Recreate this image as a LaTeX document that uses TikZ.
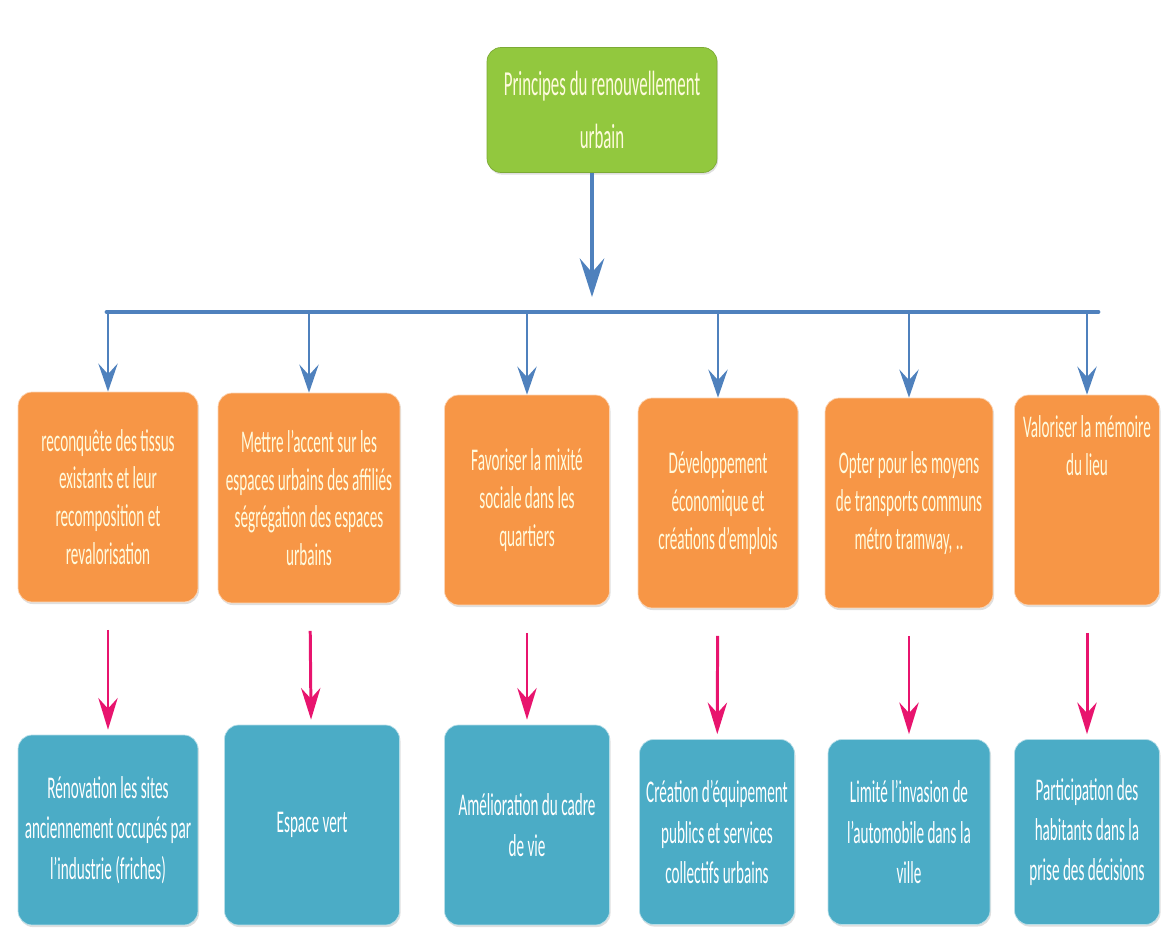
\documentclass[tikz,border=0pt]{standalone}
\usepackage{fontspec}
\setmainfont{Carlito}[FakeStretch=0.48]
\usetikzlibrary{arrows.meta,shadows,positioning}

\definecolor{vertpomme}{RGB}{146,200,62}
\definecolor{orangeboite}{RGB}{247,150,70}
\definecolor{bleuboite}{RGB}{75,172,198}
\definecolor{bleufleche}{RGB}{79,129,189}
\definecolor{rosefleche}{RGB}{232,20,110}
\definecolor{creme}{RGB}{255,251,222}

\tikzset{
  boite/.style={rounded corners=8pt, align=center, inner sep=2pt,
    font=\fontsize{18}{21.5}\selectfont,
    drop shadow={opacity=0.25,shadow xshift=0.6pt,shadow yshift=-1.2pt}},
  racine/.style={boite, fill=vertpomme, draw=vertpomme!85!black, text=creme,
    minimum width=4.6cm, minimum height=2.5cm, font=\fontsize{20}{30}\selectfont},
  principe/.style={boite, fill=orangeboite, draw=orangeboite!40!white, text=creme,
    minimum height=4.2cm},
  effet/.style={boite, fill=bleuboite, draw=bleuboite!40!white, text=white,
    font=\fontsize{18}{23}\selectfont},
  fleche tronc/.style={-{Stealth[length=22pt,width=14pt,inset=8pt]}, bleufleche, line width=1.8pt},
  fleche bleue/.style={-{Stealth[length=16pt,width=11pt,inset=6pt]}, bleufleche, line width=1.3pt},
  fleche rose/.style={-{Stealth[length=18pt,width=11pt,inset=6pt]}, rosefleche, line width=1.7pt,
    shorten <=0.55cm, shorten >=0.1cm},
}

\begin{document}
\begin{tikzpicture}[x=0.02cm, y=-0.02cm]
\useasboundingbox (0,0) rectangle (1171,932);

% racine
\node[racine] (principes) at (602,110) {Principes du renouvellement\\urbain};

% principes
\node[principe, minimum width=3.6cm]  (reconquete)    at (108,497) {reconquête des tissus\\existants et leur\\recomposition et\\revalorisation};
\node[principe, minimum width=3.64cm] (accent)        at (309,498) {Mettre l'accent sur les\\espaces urbains des affiliés\\ségrégation des espaces\\urbains};
\node[principe, minimum width=3.3cm]  (mixite)        at (527,500) {Favoriser la mixité\\sociale dans les\\quartiers};
\node[principe, minimum width=3.2cm]  (developpement) at (718,503) {Développement\\économique et\\créations d'emplois};
\node[principe, minimum width=3.36cm] (transport)     at (909,503) {Opter pour les moyens\\de transports communs\\métro tramway, ..};
\node[principe, minimum width=2.9cm]  (memoire)       at (1087,500) {};
\node[text=creme, align=center, font=\fontsize{18}{21.5}\selectfont, below=0.3cm of memoire.north] (memoire texte) {Valoriser la mémoire\\du lieu};

% effets
\node[effet, minimum width=3.6cm,  minimum height=3.8cm] (renovation)    at (108,830)  {Rénovation les sites\\anciennement occupés par\\l'industrie (friches)};
\node[effet, minimum width=3.5cm,  minimum height=4.0cm] (espace)        at (312,825)  {Espace vert};
\node[effet, minimum width=3.3cm,  minimum height=4.0cm] (cadre)         at (527,825)  {Amélioration du cadre\\de vie};
\node[effet, minimum width=3.1cm,  minimum height=3.7cm] (equipement)    at (717,832)  {Création d'équipement\\publics et services\\collectifs urbains};
\node[effet, minimum width=3.24cm, minimum height=3.7cm] (automobile)    at (909,832)  {Limité l'invasion de\\l'automobile dans la\\ville};
\node[effet, minimum width=2.9cm,  minimum height=3.7cm] (participation) at (1087,832) {Participation des\\habitants dans la\\prise des décisions};

% arbre
\coordinate (fourche) at (592,297);
\coordinate (barre gauche) at (107,312);
\coordinate (barre droite) at (1098,312);
\draw[fleche tronc] (principes.south -| fourche) -- (fourche);
\draw[bleufleche, line width=2.8pt, line cap=round] (barre gauche) -- (barre droite);
\foreach \cible in {reconquete,accent,mixite,developpement,transport,memoire}
  \draw[fleche bleue] (\cible.north |- barre gauche) -- (\cible.north);

\foreach \haut/\bas in {reconquete/renovation, accent/espace, mixite/cadre,
    developpement/equipement, transport/automobile, memoire/participation}
  \draw[fleche rose] (\haut) -- (\bas);

\end{tikzpicture}
\end{document}
